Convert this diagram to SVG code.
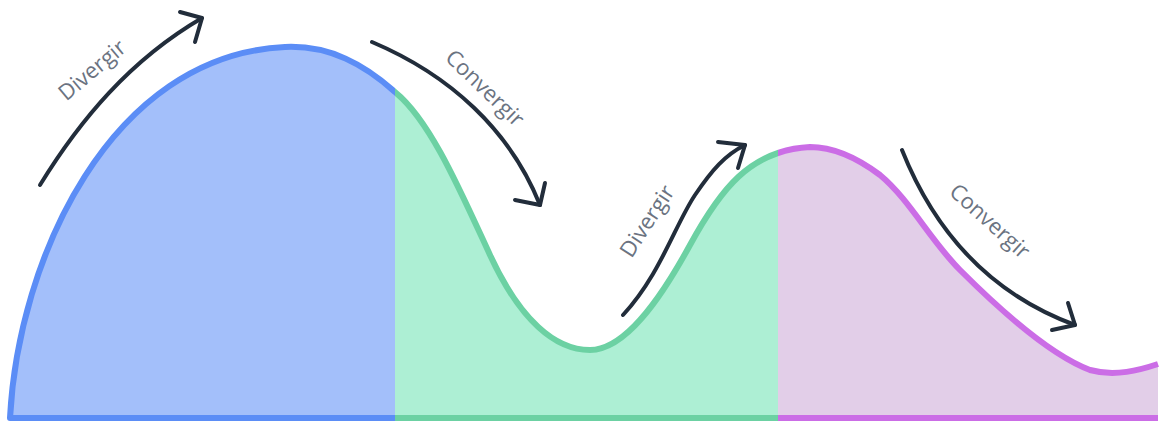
<svg xmlns="http://www.w3.org/2000/svg" width="1160" height="424" viewBox="0 0 1160 424">
  <style>
    .outline { fill: none; stroke-width: 6; stroke-linejoin: round; stroke-linecap: butt; }
    .arrow { fill: none; stroke: #222D3B; stroke-width: 4; stroke-linecap: round; stroke-linejoin: round; }
    .label { font-family: "Open Sans", "Liberation Sans", sans-serif; font-size: 22px; fill: #6B7381; text-anchor: middle; }
  </style>
  <defs>
    <path id="area" d="M10,418 C18,260 110,55 285,47 C330,45 365,65 395,92 C430,120 460,190 490,255 C520,320 555,350 590,350 C625,350 660,300 690,245 C720,190 750,150 810,147 C835,147 860,160 880,175 C910,200 930,240 960,270 C1000,310 1050,355 1090,370 C1115,377 1140,370 1158,364 L1158,418 Z"/>
    <path id="edge" d="M1158,418 L10,418 C18,260 110,55 285,47 C330,45 365,65 395,92 C430,120 460,190 490,255 C520,320 555,350 590,350 C625,350 660,300 690,245 C720,190 750,150 810,147 C835,147 860,160 880,175 C910,200 930,240 960,270 C1000,310 1050,355 1090,370 C1115,377 1140,370 1158,364"/>
    <clipPath id="clipBlue"><rect x="0" y="0" width="395" height="424"/></clipPath>
    <clipPath id="clipGreen"><rect x="395" y="0" width="383" height="424"/></clipPath>
    <clipPath id="clipPurple"><rect x="778" y="0" width="382" height="424"/></clipPath>
  </defs>

  <g id="phase-diverge-1" clip-path="url(#clipBlue)">
    <use href="#area" fill="#A3BFFA"/>
    <use href="#edge" class="outline" stroke="#5B8DF6"/>
  </g>
  <g id="phase-converge-1" clip-path="url(#clipGreen)">
    <use href="#area" fill="#ADEFD4"/>
    <use href="#edge" class="outline" stroke="#6CD1A3"/>
  </g>
  <g id="phase-diverge-converge-2" clip-path="url(#clipPurple)">
    <use href="#area" fill="#E2CEE8"/>
    <use href="#edge" class="outline" stroke="#CB6DE6"/>
  </g>

  <g id="connectors">
    <g id="arrow-divergir-1">
      <path class="arrow" d="M40,185 C80,120 130,60 202,18"/>
      <polyline class="arrow" points="180,12 202,18 195,42"/>
    </g>
    <g id="arrow-convergir-1">
      <path class="arrow" d="M372,42 C450,75 510,130 540,205"/>
      <polyline class="arrow" points="515,200 540,205 545,183"/>
    </g>
    <g id="arrow-divergir-2">
      <path class="arrow" d="M623,315 C660,275 675,225 695,195 C712,170 725,155 745,145"/>
      <polyline class="arrow" points="718,142 745,145 738,168"/>
    </g>
    <g id="arrow-convergir-2">
      <path class="arrow" d="M902,150 C930,220 980,290 1075,325"/>
      <polyline class="arrow" points="1052,330 1075,325 1068,303"/>
    </g>
  </g>

  <g id="labels">
    <text class="label" transform="translate(92,70) rotate(-40)" dy="0.35em">Divergir</text>
    <text class="label" transform="translate(485,88) rotate(44)" dy="0.35em">Convergir</text>
    <text class="label" transform="translate(647,221) rotate(-57)" dy="0.35em">Divergir</text>
    <text class="label" transform="translate(990,221) rotate(42)" dy="0.35em">Convergir</text>
  </g>
</svg>
